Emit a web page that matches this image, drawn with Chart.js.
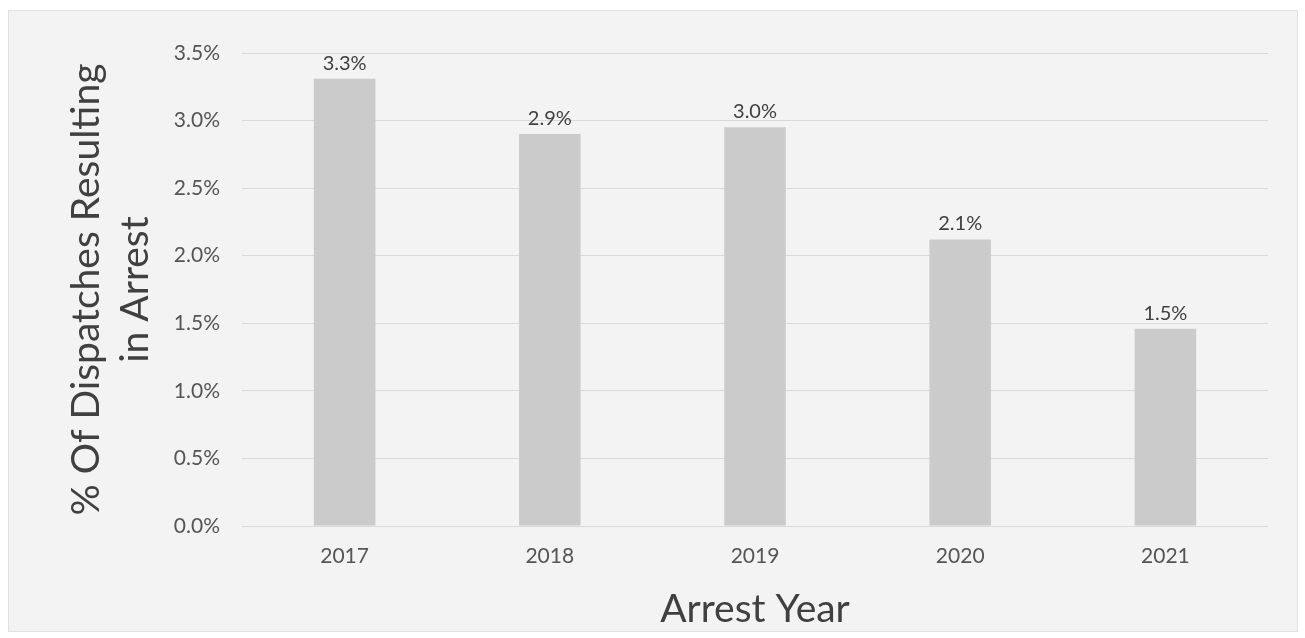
<!DOCTYPE html>
<html>
<head>
  <title>Dispatches Resulting in Arrest</title>
  <style>
    body { margin: 0; background: #ffffff; font-family: Lato, sans-serif; }
    #chart-box {
      position: absolute;
      left: 8px; top: 10px;
      width: 1290px; height: 622px;
      box-sizing: border-box;
      background: #f3f3f3;
      border: 1px solid #e0e0e0;
    }
  </style>
  <script src="https://cdn.jsdelivr.net/npm/chart.js"></script>
</head>
<body>
  <div id="chart-box">
    <canvas id="arrest-chart" width="1288" height="620"></canvas>
  </div>
  <script>
    // values (percent)
    const years = ["2017", "2018", "2019", "2020", "2021"];
    const arrestPct = [3.31, 2.90, 2.95, 2.12, 1.46];
    const yTicks = [0, 0.5, 1.0, 1.5, 2.0, 2.5, 3.0, 3.5];

    const tickColor = "#555555";
    const labelFont = { family: "Lato", size: 21 };

    // draws "3.3%" etc. above each bar
    const barLabels = {
      id: "barLabels",
      afterDatasetsDraw(chart) {
        const ctx = chart.ctx;
        const meta = chart.getDatasetMeta(0);
        ctx.save();
        ctx.font = "20px Lato";
        ctx.fillStyle = "#404040";
        ctx.textAlign = "center";
        ctx.textBaseline = "alphabetic";
        meta.data.forEach((bar, i) => {
          ctx.fillText(arrestPct[i].toFixed(1) + "%", bar.x, bar.y - 9);
        });
        ctx.restore();
      }
    };

    const ctx = document.getElementById("arrest-chart").getContext("2d");
    new Chart(ctx, {
      type: "bar",
      data: {
        labels: years,
        datasets: [{
          data: arrestPct,
          backgroundColor: "#cbcbcb",
          borderWidth: 0,
          barPercentage: 0.3,
          categoryPercentage: 1.0
        }]
      },
      options: {
        responsive: false,
        animation: false,
        layout: { padding: { top: 42, right: 29, left: 0, bottom: 0 } },
        plugins: {
          legend: { display: false },
          tooltip: { enabled: false }
        },
        scales: {
          x: {
            grid: { display: false, drawTicks: false },
            border: { display: false },
            ticks: { color: tickColor, font: labelFont, padding: 18 },
            title: {
              display: true,
              text: "Arrest Year",
              color: "#404040",
              font: { family: "Lato", size: 39, lineHeight: 1.0 },
              padding: { top: 0, bottom: 2 }
            },
            afterFit(scale) { scale.height = 105; }
          },
          y: {
            min: 0,
            max: 3.5,
            afterBuildTicks(scale) {
              scale.ticks = yTicks.map(v => ({ value: v }));
            },
            grid: { color: "#d9d9d9", lineWidth: 1, drawTicks: false },
            border: { display: false },
            ticks: {
              color: tickColor,
              font: labelFont,
              padding: 22,
              callback: v => v.toFixed(1) + "%"
            },
            title: {
              display: true,
              text: ["% Of Dispatches Resulting", "in Arrest"],
              color: "#404040",
              font: { family: "Lato", size: 39, lineHeight: 1.26 },
              padding: { top: 53, bottom: 0 }
            },
            afterFit(scale) { scale.width = 233; }
          }
        }
      },
      plugins: [barLabels]
    });
  </script>
</body>
</html>
